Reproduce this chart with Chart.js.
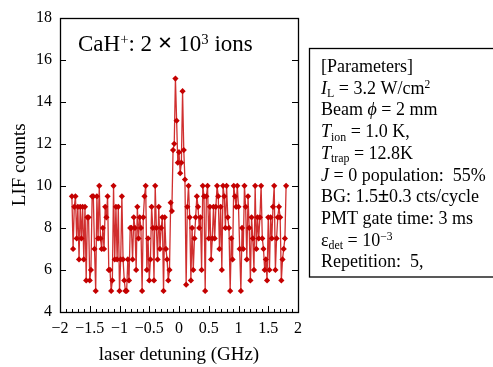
<!DOCTYPE html>
<html><head><meta charset="utf-8">
<script src="https://cdn.jsdelivr.net/npm/chart.js@4"></script>
<style>html,body{margin:0;padding:0;background:#fff}#wrap{width:493px;height:367px;position:relative}</style>
</head><body><div id="wrap"><canvas id="c" width="493" height="367"></canvas></div>
<script>
const detuning = [
-1.80,-1.78,-1.76,-1.74,-1.72,-1.70,-1.68,-1.66,-1.64,-1.62,
-1.60,-1.58,-1.56,-1.54,-1.52,-1.50,-1.48,-1.46,-1.44,-1.42,
-1.40,-1.38,-1.36,-1.34,-1.32,-1.30,-1.28,-1.26,-1.24,-1.22,
-1.20,-1.18,-1.16,-1.14,-1.12,-1.10,-1.08,-1.06,-1.04,-1.02,
-1.00,-0.98,-0.96,-0.94,-0.92,-0.90,-0.88,-0.86,-0.84,-0.82,
-0.80,-0.78,-0.76,-0.74,-0.72,-0.70,-0.68,-0.66,-0.64,-0.62,
-0.60,-0.58,-0.56,-0.54,-0.52,-0.50,-0.48,-0.46,-0.44,-0.42,
-0.40,-0.38,-0.36,-0.34,-0.32,-0.30,-0.28,-0.26,-0.24,-0.22,
-0.20,-0.18,-0.16,-0.14,-0.12,-0.10,-0.08,-0.06,-0.04,-0.02,
0.00,0.02,0.04,0.06,0.08,0.10,0.12,0.14,0.16,0.18,
0.20,0.22,0.24,0.26,0.28,0.30,0.32,0.34,0.36,0.38,
0.40,0.42,0.44,0.46,0.48,0.50,0.52,0.54,0.56,0.58,
0.60,0.62,0.64,0.66,0.68,0.70,0.72,0.74,0.76,0.78,
0.80,0.82,0.84,0.86,0.88,0.90,0.92,0.94,0.96,0.98,
1.00,1.02,1.04,1.06,1.08,1.10,1.12,1.14,1.16,1.18,
1.20,1.22,1.24,1.26,1.28,1.30,1.32,1.34,1.36,1.38,
1.40,1.42,1.44,1.46,1.48,1.50,1.52,1.54,1.56,1.58,
1.60,1.62,1.64,1.66,1.68,1.70,1.72,1.74,1.76,1.78,
1.80];
const lifCounts = [
9.5,7.0,9.0,9.5,7.5,9.0,6.5,9.0,7.5,9.0,
6.5,9.0,5.5,8.5,8.5,5.5,6.0,9.5,9.5,7.0,
5.0,9.5,7.5,10,7.5,7.0,8.0,7.0,9.0,8.5,
9.5,6.0,6.0,5.0,5.5,10,6.5,9.0,6.5,9.0,
5.0,6.5,9.5,6.5,5.5,5.0,5.0,6.5,5.5,8.0,
8.0,6.5,8.5,8.0,6.0,9.0,7.5,8.5,8.0,5.0,
8.5,9.5,10,6.0,7.5,5.5,6.5,9.0,8.0,5.5,
10,8.0,6.5,9.0,7.0,8.0,8.5,5.0,8.5,7.0,
6.5,5.5,6.0,
9.2,8.8,11.7,12.0,15.1,13.1,11.1,11.6,10.6,11.1,14.5,11.7,10.3,5.3,
9.0,10,8.5,5.5,8.0,6.0,7.5,8.5,9.5,9.0,
8.0,8.5,6.0,10,9.5,5.0,9.5,10,7.5,9.0,
6.5,7.5,9.0,7.5,9.0,10,9.5,7.0,9.0,6.0,
10,9.5,8.0,10,8.5,8.0,5.0,7.5,6.5,10,
9.5,9.0,10,9.0,7.0,5.0,8.0,7.0,10,9.0,
6.5,9.5,8.0,5.5,8.5,7.5,6.0,10,7.0,8.5,
7.5,8.5,10,7.5,7.0,6.0,6.5,5.5,8.5,6.0,
8.5,7.5,9.0,10,6.0,7.5,8.5,9.0,8.5,5.5,
6.5,7.0,7.5,10];
const xTicks = [-2,-1.5,-1,-0.5,0,0.5,1,1.5,2];
const yTicks = [4,6,8,10,12,14,16,18];
const xMinorStep = 0.1;
const xTitle = 'laser detuning (GHz)';
const yTitle = 'LIF counts';
const annotation = [{t:'CaH'},{t:'+',sup:1},{t:': 2 '},{t:'×',b:1,big:1},{t:' 10'},{t:'3',sup:1},{t:' ions'}];
const paramLines = [
 [{t:'[Parameters]'}],
 [{t:'I',i:1},{t:'L',sub:1},{t:' = 3.2 W/cm'},{t:'2',sup:1}],
 [{t:'Beam '},{t:'ϕ',i:1},{t:' = 2 mm'}],
 [{t:'T',i:1},{t:'ion',sub:1},{t:' = 1.0 K,'}],
 [{t:'T',i:1},{t:'trap',sub:1},{t:' = 12.8K'}],
 [{t:'J',i:1},{t:' = 0 population:  55%'}],
 [{t:'BG: 1.5'},{t:'±',b:1,big:1},{t:'0.3 cts/cycle'}],
 [{t:'PMT gate time: 3 ms'}],
 [{t:'ε'},{t:'det',sub:1},{t:' = 10'},{t:'−3',sup:1}],
 [{t:'Repetition:  5,'}]
];
const FONT = '"Liberation Serif","Times New Roman",serif';
function fmt(v){ const s = String(v); return v<0 ? '−'+s.slice(1) : s; }
function drawRich(ctx, x, y, segs, size){
  for (const s of segs){
    let fs=size, dy=0;
    if (s.sub){ fs=size*0.66; dy=size*0.2; }
    if (s.sup){ fs=size*0.64; dy=-size*0.32; }
    if (s.big){ fs=size*1.12; }
    ctx.font=(s.i?'italic ':'')+(s.b?'bold ':'')+fs+'px '+FONT;
    ctx.fillText(s.t, x, y+dy);
    x += ctx.measureText(s.t).width;
  }
}
const decor = {
  id:'decor',
  afterDraw(chart){
    const ctx=chart.ctx, a=chart.chartArea, xs=chart.scales.x, ys=chart.scales.y;
    ctx.save();
    ctx.strokeStyle='#000'; ctx.lineWidth=1.3;
    ctx.strokeRect(Math.round(a.left)+0.5, Math.round(a.top)+0.5, Math.round(a.right-a.left), Math.round(a.bottom-a.top));
    ctx.lineWidth=1;
    ctx.beginPath();
    for (let k=Math.round(xs.min/xMinorStep); k<=Math.round(xs.max/xMinorStep); k++){
      const px=Math.round(xs.getPixelForValue(k*xMinorStep))+0.5;
      ctx.moveTo(px,a.bottom); ctx.lineTo(px,a.bottom-3);
    }
    for (const v of xTicks){
      const px=Math.round(xs.getPixelForValue(v))+0.5;
      ctx.moveTo(px,a.bottom); ctx.lineTo(px,a.bottom-6);
    }
    for (const v of yTicks){
      const py=Math.round(ys.getPixelForValue(v))+0.5;
      ctx.moveTo(a.left,py); ctx.lineTo(a.left+6,py);
      ctx.moveTo(a.right,py); ctx.lineTo(a.right-6,py);
    }
    ctx.stroke();
    ctx.fillStyle='#000';
    ctx.textBaseline='alphabetic'; ctx.textAlign='left';
    drawRich(ctx, 78, 51, annotation, 23);
    ctx.textAlign='center';
    ctx.font='19px '+FONT;
    ctx.fillText(xTitle, (a.left+a.right)/2, 360);
    ctx.save();
    ctx.translate(25,(a.top+a.bottom)/2); ctx.rotate(-Math.PI/2);
    ctx.fillText(yTitle,0,0);
    ctx.restore();
    ctx.textAlign='left';
    ctx.lineWidth=1.3;
    ctx.strokeRect(309.5,48.5,200,228.5);
    paramLines.forEach((ln,i)=>drawRich(ctx, 321, 72+i*21.7, ln, 18));
    ctx.restore();
  }
};
new Chart(document.getElementById('c'),{
  type:'line',
  data:{datasets:[{
    data: detuning.map((x,i)=>({x:x,y:lifCounts[i]})),
    borderColor:'rgba(200,10,10,0.85)', borderWidth:1.3,
    pointStyle:'rectRot', pointRadius:3.1,
    pointBackgroundColor:'#c40000', pointBorderColor:'#c40000', pointBorderWidth:0,
    tension:0
  }]},
  options:{
    responsive:false, animation:false, events:[],
    layout:{padding:{left:0,right:195,top:16,bottom:0}},
    plugins:{legend:{display:false},tooltip:{enabled:false}},
    scales:{
      x:{type:'linear',min:-2,max:2,
        grid:{display:false,drawTicks:false}, border:{display:false},
        afterBuildTicks:s=>{s.ticks=xTicks.map(v=>({value:v}));},
        ticks:{autoSkip:false,maxRotation:0,padding:7,color:'#000',font:{family:FONT,size:16},callback:v=>fmt(v)},
        afterFit:s=>{s.height=55;}
      },
      y:{min:4,max:18,
        grid:{display:false,drawTicks:false}, border:{display:false},
        afterBuildTicks:s=>{s.ticks=yTicks.map(v=>({value:v}));},
        ticks:{autoSkip:false,padding:8,color:'#000',font:{family:FONT,size:16},callback:v=>fmt(v)},
        afterFit:s=>{s.width=60;}
      }
    }
  },
  plugins:[decor]
});
</script></body></html>
